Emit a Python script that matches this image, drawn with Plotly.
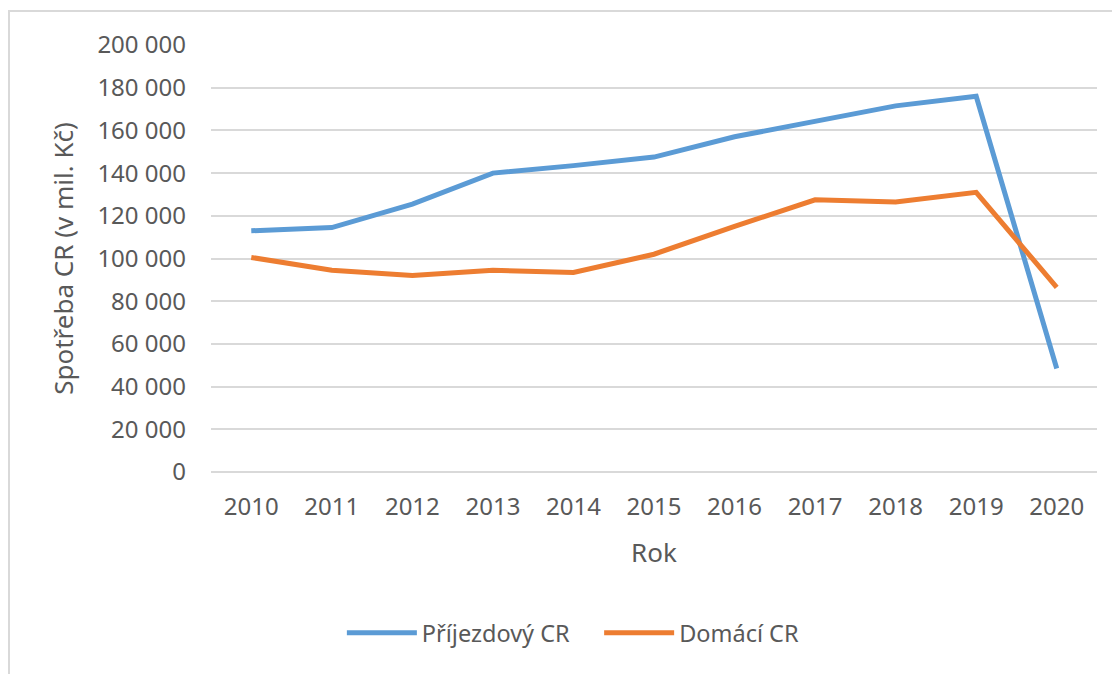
import plotly.graph_objects as go

# Data
roky = ['2010', '2011', '2012', '2013', '2014', '2015', '2016', '2017', '2018', '2019', '2020']
prijezdovy_cr = [113000, 114500, 125500, 140000, 143500, 147500, 157000, 164500, 171500, 176000, 48500]
domaci_cr = [100500, 94500, 92000, 94500, 93500, 102000, 115000, 127500, 126500, 131000, 86500]

FONT = 'Noto Sans, Open Sans, Arial'
TEXT_COLOR = '#595959'
GRID_COLOR = '#D9D9D9'

# the page has an 8px body margin, so the figure is a bit smaller than the window
W, H = 1112, 666
L, T = 203, 37
PW, PH = 886, 427

fig = go.Figure()
fig.add_trace(go.Scatter(
    x=roky, y=prijezdovy_cr, mode='lines',
    name='Příjezdový CR' + '\u00a0' * 4,  # extra gap between legend items
    line=dict(color='#5B9BD5', width=5)
))
fig.add_trace(go.Scatter(
    x=roky, y=domaci_cr, mode='lines', name='Domácí CR',
    line=dict(color='#ED7D31', width=5)
))

fig.update_layout(
    width=W,
    height=H,
    margin=dict(l=L, r=W - L - PW, t=T, b=H - T - PH),
    paper_bgcolor='white',
    plot_bgcolor='white',
    separators=', ',
    font=dict(family=FONT, size=24, color=TEXT_COLOR),
    showlegend=True,
    legend=dict(
        orientation='h', x=0.409, xanchor='center', y=-0.377, yanchor='middle',
        font=dict(size=23.5, color=TEXT_COLOR), itemwidth=70,
    ),
    xaxis=dict(
        type='category',
        range=[-0.5, 10.5],
        showgrid=False,
        showline=False,
        ticks='',
        ticklabelstandoff=18,
        title=dict(text='Rok', standoff=22, font=dict(size=26)),
    ),
    yaxis=dict(
        range=[0, 200000],
        dtick=20000,
        tickformat=',d',
        gridcolor=GRID_COLOR,
        gridwidth=2,
        zeroline=True,
        zerolinecolor=GRID_COLOR,
        zerolinewidth=2,
        ticklabelstandoff=24,
        title=dict(text='Spotřeba CR (v mil. Kč)', standoff=16, font=dict(size=26)),
    ),
    shapes=[dict(
        type='rect', xref='paper', yref='paper',
        x0=(1 - L) / PW, x1=1.1, y0=-0.7, y1=(T + PH - 3) / PH,
        line=dict(color='#D9D9D9', width=2), fillcolor='rgba(0,0,0,0)', layer='below',
    )],
)

fig.write_html('out.html')
